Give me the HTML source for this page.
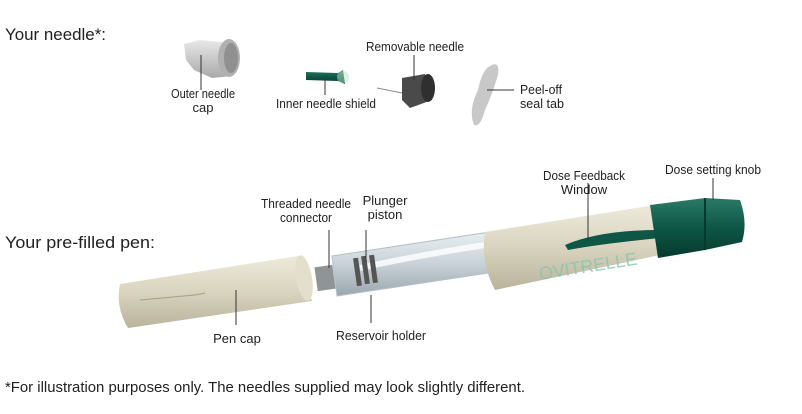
<!DOCTYPE html>
<html><head><meta charset="utf-8"><style>
html,body{margin:0;padding:0;background:#fff;}
svg{display:block;}
text{font-family:"Liberation Sans",sans-serif;fill:#222;}
</style></head><body>
<svg width="802" height="414" viewBox="0 0 802 414" xmlns="http://www.w3.org/2000/svg">
<defs>
<linearGradient id="cap" x1="0" y1="0" x2="0" y2="1"><stop offset="0" stop-color="#eeeadb"/><stop offset="0.5" stop-color="#d9d4bf"/><stop offset="1" stop-color="#b9b39c"/></linearGradient>
<linearGradient id="grn" x1="0" y1="0" x2="0" y2="1"><stop offset="0" stop-color="#2a7a66"/><stop offset="0.5" stop-color="#0e5646"/><stop offset="1" stop-color="#063a2e"/></linearGradient>
<linearGradient id="gry" x1="0" y1="0" x2="0" y2="1"><stop offset="0" stop-color="#e8e8e8"/><stop offset="1" stop-color="#a9a9a9"/></linearGradient>
<linearGradient id="res" x1="0" y1="0" x2="0" y2="1"><stop offset="0" stop-color="#e9eff2"/><stop offset="0.5" stop-color="#c8d2d8"/><stop offset="1" stop-color="#9aa6ad"/></linearGradient>
</defs>
<!-- headings -->
<text x="5" y="40" font-size="17" textLength="101" lengthAdjust="spacingAndGlyphs">Your needle*:</text>
<text x="5" y="248" font-size="17" textLength="150" lengthAdjust="spacingAndGlyphs">Your pre-filled pen:</text>
<text x="5" y="392" font-size="15" textLength="520" lengthAdjust="spacingAndGlyphs">*For illustration purposes only. The needles supplied may look slightly different.</text>

<!-- outer needle cap -->
<path d="M184 44 L200 40 L222 42 L232 76 L212 78 L194 70 L186 60 Z" fill="url(#gry)"/>
<ellipse cx="229" cy="58" rx="11" ry="19" fill="#b0b0b0"/>
<ellipse cx="231" cy="58" rx="7" ry="15" fill="#909090"/>
<line x1="201" y1="55" x2="201" y2="90" stroke="#333"/>
<text x="203" y="98" font-size="13" text-anchor="middle" textLength="64" lengthAdjust="spacingAndGlyphs">Outer needle</text>
<text x="203" y="112" font-size="13" text-anchor="middle">cap</text>
<!-- inner shield -->
<path d="M306 72 L338 73 L343 70 L345 84 L338 81 L306 80 Z" fill="url(#grn)"/>
<circle cx="343" cy="77" r="6" fill="#b8e6cc" opacity="0.5"/>
<line x1="325" y1="80" x2="325" y2="95" stroke="#333"/>
<text x="326" y="108" font-size="13" text-anchor="middle" textLength="100" lengthAdjust="spacingAndGlyphs">Inner needle shield</text>
<!-- removable needle -->
<line x1="377" y1="88" x2="402" y2="93" stroke="#888"/>
<path d="M402 78 L425 74 L432 100 L410 108 L402 100 Z" fill="#4a4a4a"/>
<ellipse cx="428" cy="88" rx="7" ry="14" fill="#2f2f2f"/>
<line x1="414" y1="55" x2="414" y2="80" stroke="#333"/>
<text x="415" y="51" font-size="13" text-anchor="middle" textLength="98" lengthAdjust="spacingAndGlyphs">Removable needle</text>
<!-- peel tab -->
<path d="M490 66 Q500 60 498 75 Q492 95 485 110 Q480 128 474 125 Q468 110 478 90 Q482 70 490 66 Z" fill="#c8c8c8"/>
<line x1="487" y1="90" x2="514" y2="90" stroke="#333"/>
<text x="520" y="94" font-size="13" textLength="42" lengthAdjust="spacingAndGlyphs">Peel-off</text>
<text x="520" y="108" font-size="13" textLength="44" lengthAdjust="spacingAndGlyphs">seal tab</text>

<!-- pen cap -->
<path d="M120 284 L298 256 L312 301 L128 328 Q115 306 120 284 Z" fill="url(#cap)"/>
<ellipse cx="304" cy="278" rx="8" ry="23" transform="rotate(-10 304 278)" fill="#e3dfcc"/>
<path d="M140 300 L195 295 L205 293" stroke="#a59f88" fill="none"/>
<line x1="236" y1="290" x2="236" y2="325" stroke="#333"/>
<text x="237" y="343" font-size="13" text-anchor="middle">Pen cap</text>
<!-- connector -->
<rect x="316" y="266" width="18" height="24" fill="#8f9597" transform="rotate(-8 325 278)"/>
<line x1="329" y1="230" x2="329" y2="268" stroke="#333"/>
<text x="306" y="208" font-size="13" text-anchor="middle" textLength="90" lengthAdjust="spacingAndGlyphs">Threaded needle</text>
<text x="306" y="222" font-size="13" text-anchor="middle" textLength="52" lengthAdjust="spacingAndGlyphs">connector</text>
<!-- reservoir -->
<path d="M332 256 L490 232 L495 272 L337 296 Z" fill="url(#res)" stroke="#b5c0c6"/>
<path d="M360 268 Q420 255 485 245" stroke="#ffffff" stroke-width="6" fill="none" opacity="0.8"/>
<g fill="#555"><rect x="355" y="258" width="5" height="28" transform="rotate(-8 357 272)"/><rect x="363" y="256" width="5" height="28" transform="rotate(-8 365 270)"/><rect x="371" y="255" width="5" height="28" transform="rotate(-8 373 269)"/></g>
<line x1="366" y1="230" x2="366" y2="262" stroke="#333"/>
<text x="385" y="205" font-size="13" text-anchor="middle">Plunger</text>
<text x="385" y="219" font-size="13" text-anchor="middle">piston</text>
<line x1="371" y1="295" x2="371" y2="323" stroke="#333"/>
<text x="381" y="340" font-size="13" text-anchor="middle" textLength="90" lengthAdjust="spacingAndGlyphs">Reservoir holder</text>
<!-- body -->
<path d="M485 232 L655 205 L660 255 L495 290 Q480 262 485 232 Z" fill="url(#cap)"/>
<path d="M565 245 Q600 230 660 230 L660 238 Q600 244 568 250 Z" fill="#0e5646"/>
<text x="540" y="280" font-size="18" transform="rotate(-9 540 280)" style="fill:#86c6ab" opacity="0.8">OVITRELLE</text>
<line x1="588" y1="183" x2="588" y2="240" stroke="#333"/>
<text x="584" y="180" font-size="13" text-anchor="middle" textLength="82" lengthAdjust="spacingAndGlyphs">Dose Feedback</text>
<text x="584" y="194" font-size="13" text-anchor="middle">Window</text>
<!-- knob -->
<path d="M650 205 L705 198 L740 200 Q748 222 742 242 L705 250 L658 258 Z" fill="url(#grn)"/>
<line x1="705" y1="198" x2="705" y2="250" stroke="#063a2e" stroke-width="2"/>
<line x1="713" y1="178" x2="713" y2="200" stroke="#333"/>
<text x="713" y="174" font-size="13" text-anchor="middle" textLength="96" lengthAdjust="spacingAndGlyphs">Dose setting knob</text>
</svg>
</body></html>
